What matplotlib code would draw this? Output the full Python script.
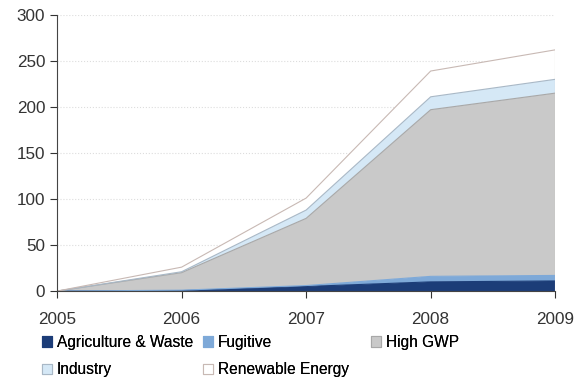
import matplotlib.pyplot as plt
import numpy as np

plt.rcParams['font.family'] = ['Liberation Sans', 'DejaVu Sans']

years = [2005, 2006, 2007, 2008, 2009]
agriculture = [0, 0.5, 5, 10, 11]
fugitive = [0, 0.5, 1, 6, 6]
high_gwp = [0, 19, 73, 181, 198]
industry = [0, 1, 9, 14, 15]
renewable = [0, 5, 13, 28, 32]

etiquetas = ['Agriculture & Waste', 'Fugitive', 'High GWP', 'Industry', 'Renewable Energy']
colores = ['#1c3d78', '#7ea9d8', '#c9c9c9', '#d5e8f6', '#ffffff']
bordes = ['#1c3d78', '#7ea9d8', '#a8a8a8', '#a9b8c6', '#c8b9b4']

fig = plt.figure(figsize=(5.82, 3.81), dpi=100)
ax = fig.add_axes([0.098, 0.236, 0.856, 0.725])

series = [agriculture, fugitive, high_gwp, industry, renewable]
base = np.zeros(len(years))
for datos, color, borde, etiqueta in zip(series, colores, bordes, etiquetas):
    top = base + np.array(datos)
    ax.fill_between(years, base, top, facecolor=color, edgecolor='none', label=etiqueta)
    ax.plot(years, top, color=borde, lw=0.8)
    base = top
ax.plot([years[-1], years[-1]], [0, base[-1]], color='#c8b9b4', lw=0.8)

ax.set_xlim(2005, 2009)
ax.set_ylim(0, 300)
ax.set_xticks(years)
ax.set_yticks(range(0, 301, 50))
ax.yaxis.grid(True, color='#dddddd', linestyle=':', lw=0.8)
ax.set_axisbelow(True)
for s in ['top', 'right']:
    ax.spines[s].set_visible(False)
for s in ['left', 'bottom']:
    ax.spines[s].set_color('#444444')
ax.tick_params(axis='both', labelsize=12.3, colors='#333333', length=5, width=0.8)
ax.tick_params(axis='x', pad=10)

# la leyenda se arma por columnas, cada una en su sitio
columnas = [[0, 3], [1, 4], [2]]
x_col = [0.072, 0.349, 0.638]
for col, x0 in zip(columnas, x_col):
    handles = []
    for i in col:
        handles.append(plt.Rectangle((0, 0), 1, 1, facecolor=colores[i],
                                     edgecolor=bordes[i] if i >= 2 else colores[i], lw=0.8))
    leg = fig.legend(handles, [etiquetas[i] for i in col], loc='upper left',
                     bbox_to_anchor=(x0, 0.121), frameon=False, fontsize=11.2,
                     handlelength=0.65, handleheight=0.65, handletextpad=0.3,
                     labelspacing=0.8, borderpad=0, borderaxespad=0)
    fig.add_artist(leg)

fig.savefig('out.png', dpi=100)
